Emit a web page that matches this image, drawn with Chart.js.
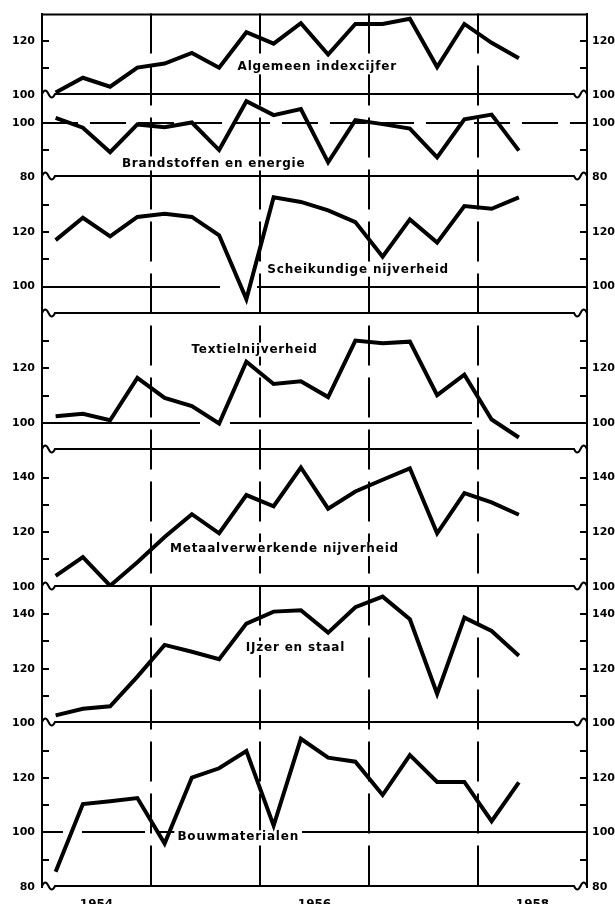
<!DOCTYPE html>
<html><head><meta charset="utf-8">
<script src="https://cdn.jsdelivr.net/npm/chart.js@4.4.1/dist/chart.umd.min.js"></script>
<style>html,body{margin:0;padding:0;background:#fff;overflow:hidden}</style>
</head><body>
<canvas id="c" width="615" height="904"></canvas>
<script>
// ---- data (quarterly index figures, 1954 I – 1958 II) ----
const quarters = ['1954 I','1954 II','1954 III','1954 IV','1955 I','1955 II','1955 III','1955 IV',
  '1956 I','1956 II','1956 III','1956 IV','1957 I','1957 II','1957 III','1957 IV','1958 I','1958 II'];
const years = ['1954','1955','1956','1957','1958'];
const yearTickLabels = ['1954','','1956','','1958'];
const seriesNames = ['Algemeen indexcijfer','Brandstoffen en energie','Scheikundige nijverheid',
  'Textielnijverheid','Metaalverwerkende nijverheid','IJzer en staal','Bouwmaterialen'];
const algemeen     = [101.1,106.5,103.2,110.2,111.7,115.6,110.2,123.2,119.0,126.5,115.0,126.2,126.2,128.1,110.4,126.2,119.3,113.6];
const brandstoffen = [101.8, 98.2, 89.2, 99.4, 98.4,100.1, 90.0,107.9,102.8,105.0, 85.5,101.0, 99.5, 97.9, 87.3,101.3,103.0, 89.8];
const scheikundige = [117.0,125.2,118.4,125.5,126.7,125.5,118.8, 95.4,132.7,131.0,127.9,123.6,110.9,124.6,116.1,129.5,128.5,132.7];
const textiel      = [102.5,103.4,101.0,116.5,109.2,106.2, 99.8,122.5,114.3,115.3,109.5,130.2,129.2,129.8,110.2,117.7,101.3, 94.7];
const metaal       = [104.0,110.9,100.4,109.0,118.2,126.6,119.6,133.6,129.5,143.7,128.6,134.9,139.2,143.4,119.6,134.3,130.9,126.4];
const ijzer        = [102.9,105.3,106.2,117.1,128.7,126.2,123.5,136.5,140.9,141.4,133.2,142.5,146.4,138.1,110.8,138.7,133.8,124.7];
const bouw         = [ 85.6,110.4,111.4,112.6, 95.9,120.1,123.5,129.8,102.5,134.3,127.4,125.9,113.7,128.3,118.5,118.5,104.1,118.3];
const axisMin = [100, 80, 90, 90,100,100, 80];
const axisMax = [130,110,140,140,150,150,140];
const tickStep = 10, labelStep = 20;

const allSeries = [algemeen, brandstoffen, scheikundige, textiel, metaal, ijzer, bouw];
const nPanels = allSeries.length;

// ---- chart ----
const tickFont = {family:'DejaVu Sans', weight:'bold', size:11};
const scales = {
  x: {
    type:'linear', min:0, max:years.length*4, position:'bottom',
    grid:{display:false}, border:{display:false},
    afterBuildTicks: s => { s.ticks = years.map((y,k)=>({value:k*4+2})); },
    ticks:{autoSkip:false, maxRotation:0, padding:3, color:'#000',
      font:{family:'DejaVu Sans', weight:'bold', size:12},
      callback:(v,i)=>yearTickLabels[i]},
    afterFit: s => { s.height = 17; }
  }
};
for (let k = 0; k < nPanels; k++) {
  const mn = axisMin[k], mx = axisMax[k];
  const base = {
    type:'linear', min:mn, max:mx, stackWeight: mx - mn,
    afterBuildTicks: s => { const t=[]; for (let v=mn; v<=mx; v+=tickStep) t.push({value:v}); s.ticks=t; },
    grid:{display:true, drawOnChartArea:false, drawTicks:false},
    border:{display:true, color:'#000', width:2},
  };
  scales['yL'+k] = Object.assign({}, base, {
    position:'left', stack:'left', weight: nPanels - k,
    ticks:{autoSkip:false, padding:7, color:'#000', font:tickFont,
      callback:v => (v % labelStep === 0 && v !== mx) ? String(v) : ''},
    afterFit: s => { s.width = 42; }
  });
  scales['yR'+k] = Object.assign({}, base, {
    position:'right', stack:'right', weight: k,
    ticks:{autoSkip:false, padding:5, color:'#000', font:tickFont,
      callback:v => (v % labelStep === 0 && v !== mx) ? String(v) : ''},
    afterFit: s => { s.width = 28; }
  });
}

const datasets = allSeries.map((arr, k) => ({
  label: seriesNames[k],
  data: arr.map((v, i) => ({x: i + 0.5, y: v})),
  yAxisID: 'yL' + k, xAxisID: 'x',
  borderColor:'#000', borderWidth:4, pointRadius:0, tension:0,
  borderJoinStyle:'miter', borderCapStyle:'butt', fill:false
}));

// decoration styles (not data)
const refDash = [null, [36,12], [178,37,2000], [158,30,242,38,2000], null, null, [21,19,63,12,2000]];
const titlePos = [[10.1,110.3],[6.3,85.1],[11.6,106.2],[7.8,126.9],[8.9,113.8],[9.3,127.6],[7.2,98.2]];

function seg(ctx,x1,y1,x2,y2){ctx.beginPath();ctx.moveTo(x1,y1);ctx.lineTo(x2,y2);ctx.stroke();}

const decor = {
  id:'decor',
  beforeDatasetsDraw(chart) {
    const ctx = chart.ctx, ca = chart.chartArea, xs = chart.scales.x;
    ctx.save();
    ctx.strokeStyle = '#000'; ctx.lineWidth = 2; ctx.lineCap = 'butt';
    // year boundaries
    ctx.setLineDash([40,12]);
    for (let k = 1; k < years.length; k++) {
      const px = Math.round(xs.getPixelForValue(k*4));
      seg(ctx, px, ca.top, px, ca.bottom);
    }
    ctx.setLineDash([]);
    seg(ctx, ca.left, ca.top+1, ca.right, ca.top+1);
    for (let k = 0; k < nPanels; k++) {
      const s = chart.scales['yL'+k];
      const yb = Math.round(s.getPixelForValue(axisMin[k])) - 1;
      const L = ca.left, R = ca.right, w = 13, a = 7;
      ctx.beginPath();
      ctx.moveTo(L, yb);
      ctx.quadraticCurveTo(L + w*0.25, yb - a, L + w*0.5, yb);
      ctx.quadraticCurveTo(L + w*0.75, yb + a, L + w, yb);
      ctx.lineTo(R - w, yb);
      ctx.quadraticCurveTo(R - w*0.75, yb + a, R - w*0.5, yb);
      ctx.quadraticCurveTo(R - w*0.25, yb - a, R, yb);
      ctx.stroke();
      if (refDash[k]) {
        const yr = Math.round(s.getPixelForValue(100));
        ctx.setLineDash(refDash[k]);
        seg(ctx, L, yr, R, yr);
        ctx.setLineDash([]);
      }
    }
    // titles
    ctx.font = 'bold 12px "DejaVu Sans"';
    ctx.letterSpacing = '0.8px';
    ctx.textAlign = 'center'; ctx.textBaseline = 'middle';
    for (let k = 0; k < nPanels; k++) {
      const s = chart.scales['yL'+k];
      const px = xs.getPixelForValue(titlePos[k][0]);
      const py = s.getPixelForValue(titlePos[k][1]);
      const tw = ctx.measureText(seriesNames[k]).width;
      ctx.fillStyle = '#fff';
      ctx.fillRect(px - tw/2 - 3, py - 7, tw + 6, 14);
      ctx.fillStyle = '#000';
      ctx.fillText(seriesNames[k], px, py);
    }
    ctx.restore();
  },
  afterDatasetsDraw(chart) {
    const ctx = chart.ctx, ca = chart.chartArea;
    ctx.save();
    ctx.strokeStyle = '#000'; ctx.lineWidth = 2;
    for (let k = 0; k < nPanels; k++) {
      const s = chart.scales['yL'+k];
      for (let v = axisMin[k] + tickStep; v < axisMax[k]; v += tickStep) {
        const py = Math.round(s.getPixelForValue(v));
        seg(ctx, ca.left, py, ca.left + 7, py);
        seg(ctx, ca.right - 7, py, ca.right, py);
      }
    }
    ctx.restore();
  }
};

new Chart(document.getElementById('c'), {
  type:'line',
  data:{datasets},
  options:{
    responsive:false, animation:false, devicePixelRatio:1,
    layout:{padding:{top:11, left:0, right:0, bottom:0}},
    plugins:{legend:{display:false}, tooltip:{enabled:false}, title:{display:false}},
    scales
  },
  plugins:[decor]
});
</script>
</body></html>
